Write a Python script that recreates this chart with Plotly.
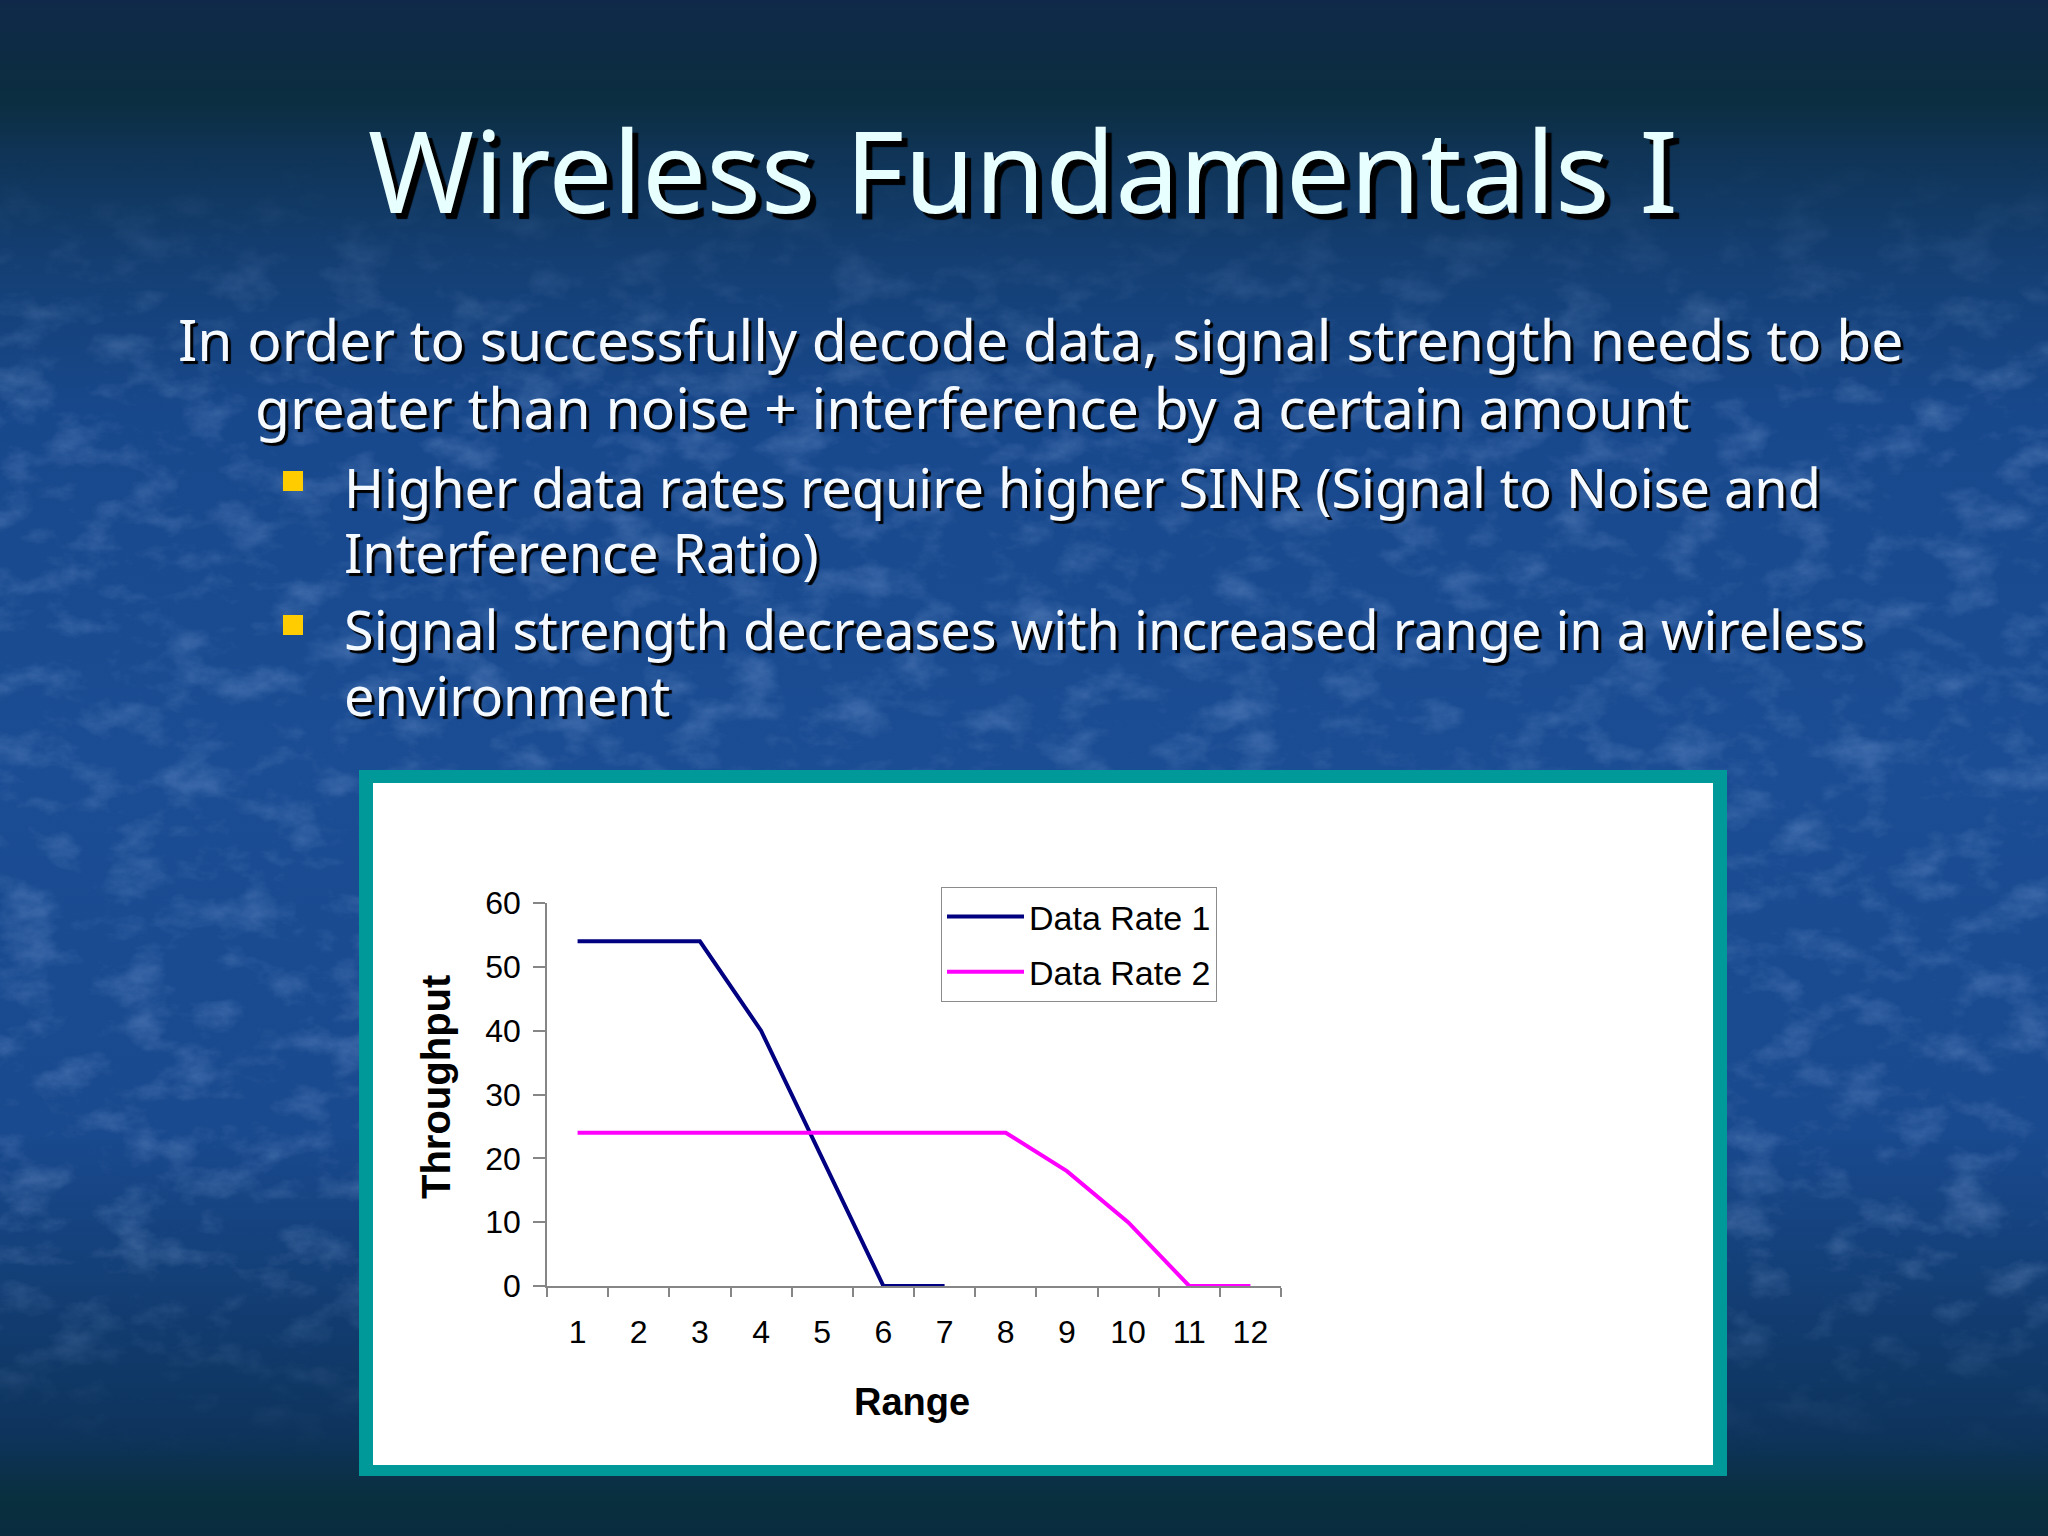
import plotly.graph_objects as go
import base64

# ---------------- data ----------------
range_labels = ["1", "2", "3", "4", "5", "6", "7", "8", "9", "10", "11", "12"]
data_rate_1 = [54, 54, 54, 40, 20, 0, 0]
data_rate_2 = [24, 24, 24, 24, 24, 24, 24, 24, 18, 10, 0, 0]
series_names = ["Data Rate 1", "Data Rate 2"]
y_ticks = [0, 10, 20, 30, 40, 50, 60]

title_text = "Wireless Fundamentals I"
body_lines = [
    "In order to successfully decode data, signal strength needs to be",
    "greater than noise + interference by a certain amount",
]
bullet_lines = [
    ["Higher data rates require higher SINR (Signal to Noise and", "Interference Ratio)"],
    ["Signal strength decreases with increased range in a wireless", "environment"],
]

W, H = 2048, 1536


def px(x):
    return x / W


def py(y):
    return 1 - y / H


# ---------------- background (gradient + texture) ----------------
svg = f'''<svg xmlns="http://www.w3.org/2000/svg" width="{W}" height="{H}" viewBox="0 0 {W} {H}" preserveAspectRatio="none">
<defs>
<linearGradient id="g" x1="0" y1="0" x2="0" y2="1">
<stop offset="0" stop-color="#10294a"/>
<stop offset="0.03" stop-color="#0d2b44"/>
<stop offset="0.065" stop-color="#0b2e40"/>
<stop offset="0.10" stop-color="#0f3456"/>
<stop offset="0.17" stop-color="#143f74"/>
<stop offset="0.27" stop-color="#18488c"/>
<stop offset="0.5" stop-color="#1b4d94"/>
<stop offset="0.74" stop-color="#19498e"/>
<stop offset="0.86" stop-color="#123c70"/>
<stop offset="0.935" stop-color="#0e345c"/>
<stop offset="0.962" stop-color="#0b3048"/>
<stop offset="0.975" stop-color="#08303f"/>
<stop offset="1" stop-color="#0a2c3e"/>
</linearGradient>
<linearGradient id="mg" x1="0" y1="0" x2="0" y2="1">
<stop offset="0" stop-color="#000"/>
<stop offset="0.10" stop-color="#000"/>
<stop offset="0.25" stop-color="#fff"/>
<stop offset="0.82" stop-color="#fff"/>
<stop offset="0.95" stop-color="#000"/>
</linearGradient>
<mask id="m"><rect width="{W}" height="{H}" fill="url(#mg)"/></mask>
<filter id="n" x="0" y="0" width="100%" height="100%">
<feTurbulence type="fractalNoise" baseFrequency="0.018 0.03" numOctaves="5" seed="11"/>
<feColorMatrix type="matrix" values="0 0 0 0 0.45  0 0 0 0 0.62  0 0 0 0 0.95  0 0 0 2.0 -0.95"/>
</filter>
</defs>
<rect width="{W}" height="{H}" fill="url(#g)"/>
<g mask="url(#m)"><rect width="{W}" height="{H}" filter="url(#n)" opacity="0.28"/></g>
</svg>'''
bg_uri = "data:image/svg+xml;base64," + base64.b64encode(svg.encode("utf-8")).decode("ascii")

# ---------------- figure ----------------
fig = go.Figure()

fig.add_trace(go.Scatter(
    x=range_labels[:len(data_rate_1)], y=data_rate_1, name=series_names[0],
    mode="lines", line=dict(color="#000080", width=4), legendgroup="a",
))
fig.add_trace(go.Scatter(
    x=range_labels[:len(data_rate_2)], y=data_rate_2, name=series_names[1],
    mode="lines", line=dict(color="#FF00FF", width=4), legendgroup="b",
))

chart_font = "Liberation Sans, Arial, sans-serif"
slide_font = "Noto Sans, Open Sans, sans-serif"

fig.update_layout(
    width=W, height=H,
    margin=dict(l=0, r=0, t=0, b=0, autoexpand=False),
    paper_bgcolor="#123c70",
    plot_bgcolor="rgba(0,0,0,0)",
    showlegend=True,
    legend=dict(
        x=px(941), y=py(887), xanchor="left", yanchor="top",
        bgcolor="white", bordercolor="#8c8c8c", borderwidth=1,
        font=dict(family=chart_font, size=34, color="black"),
        itemwidth=77, tracegroupgap=8, traceorder="grouped",
    ),
    xaxis=dict(
        domain=[px(547), px(1281)],
        type="category", categoryorder="array", categoryarray=range_labels,
        range=[-0.5, len(range_labels) - 0.5],
        tickson="boundaries", ticks="outside", ticklen=9, tickcolor="#868686", tickwidth=1.5,
        showline=True, linecolor="#868686", linewidth=1.5,
        showgrid=False, zeroline=False,
        tickfont=dict(family=chart_font, size=32, color="black"),
        ticklabelstandoff=17,
    ),
    yaxis=dict(
        domain=[py(1286), py(903)],
        range=[0, 60], tickvals=y_ticks,
        ticks="outside", ticklen=12, tickcolor="#868686", tickwidth=1.5,
        showline=True, linecolor="#868686", linewidth=1.5,
        showgrid=False, zeroline=False,
        tickfont=dict(family=chart_font, size=32, color="black"),
        ticklabelstandoff=6,
    ),
    images=[dict(
        source=bg_uri, xref="paper", yref="paper", x=0, y=1, sizex=1, sizey=1,
        sizing="stretch", xanchor="left", yanchor="top", layer="below",
    )],
)

shapes = [
    dict(type="rect", xref="paper", yref="paper", x0=px(359), x1=px(1727), y0=py(1476), y1=py(770),
         fillcolor="#009999", line=dict(width=0), layer="below"),
    dict(type="rect", xref="paper", yref="paper", x0=px(373), x1=px(1713), y0=py(1465), y1=py(783),
         fillcolor="white", line=dict(width=0), layer="below"),
]
for cy in (481, 625):
    shapes.append(dict(type="rect", xref="paper", yref="paper", x0=px(283), x1=px(303),
                       y0=py(cy + 10), y1=py(cy - 10), fillcolor="#FFCC00",
                       line=dict(width=0), layer="above"))
fig.update_layout(shapes=shapes)

ann = []
ann.append(dict(
    text=title_text, x=px(1023), y=py(169), xref="paper", yref="paper",
    xanchor="center", yanchor="middle", showarrow=False,
    font=dict(family=slide_font, size=114, color="#E8FFFF", shadow="6px 6px 1px #000000"),
))
body_pos = [(176, 339), (253, 407)]
for t, (x, y) in zip(body_lines, body_pos):
    ann.append(dict(
        text=t, x=px(x), y=py(y), xref="paper", yref="paper",
        xanchor="left", yanchor="middle", showarrow=False,
        font=dict(family=slide_font, size=57, color="#F4FAFF", shadow="3px 3px 1px #000000"),
    ))
bullet_pos = [[487, 552], [629, 695]]
for lines, ys in zip(bullet_lines, bullet_pos):
    for t, y in zip(lines, ys):
        ann.append(dict(
            text=t, x=px(342), y=py(y), xref="paper", yref="paper",
            xanchor="left", yanchor="middle", showarrow=False,
            font=dict(family=slide_font, size=54, color="#F4FAFF", shadow="3px 3px 1px #000000"),
        ))
# axis titles
ann.append(dict(
    text="<b>Throughput</b>", x=px(436), y=py(1087), xref="paper", yref="paper",
    xanchor="center", yanchor="middle", showarrow=False, textangle=-90,
    font=dict(family=chart_font, size=40, color="black"),
))
ann.append(dict(
    text="<b>Range</b>", x=px(912), y=py(1402), xref="paper", yref="paper",
    xanchor="center", yanchor="middle", showarrow=False,
    font=dict(family=chart_font, size=38, color="black"),
))
fig.update_layout(annotations=ann)

fig.write_html(
    "out.html",
    config={"displayModeBar": False},
    post_script="document.body.style.margin='0';document.body.style.overflow='hidden';",
)
